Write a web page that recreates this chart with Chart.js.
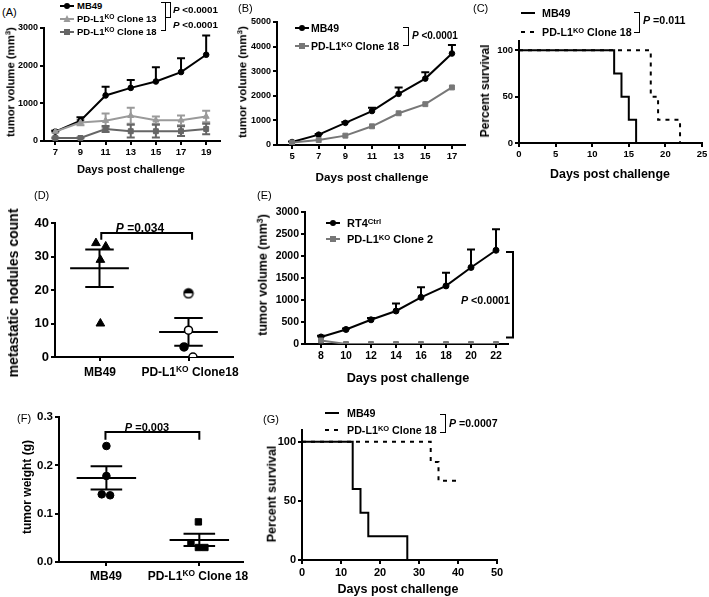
<!DOCTYPE html>
<html>
<head>
<meta charset="utf-8">
<script src="https://cdn.jsdelivr.net/npm/chart.js@4"></script>
<style>
  body { margin: 0; background: #fff; }
  #fig { position: relative; width: 709px; height: 597px; overflow: hidden; font-family: "Liberation Sans", Arial, sans-serif; color: #000; }
  .p { position: absolute; }
  .t { position: absolute; white-space: nowrap; font-weight: bold; line-height: 1; }
  .t sup { font-size: 70%; vertical-align: 0; position: relative; top: -0.45em; }
  .br { position: absolute; box-sizing: border-box; border: 1.5px solid #000; border-left: none; }
</style>
</head>
<body>
<div id="fig"></div>
<script>
// (A) tumour volume, MB49 vs PD-L1 KO clones
const aDays = [7, 9, 11, 13, 15, 17, 19];
const aMB49 = [250, 540, 1210, 1410, 1580, 1830, 2290];
const aMB49Sem = [20, 90, 230, 210, 380, 370, 510];
const aC13 = [250, 490, 540, 670, 550, 550, 650];
const aC13Sem = [20, 70, 190, 210, 100, 130, 150];
const aC18 = [80, 80, 320, 260, 260, 260, 320];
const aC18Sem = [10, 10, 80, 170, 170, 130, 140];
const aXTicks = [7, 9, 11, 13, 15, 17, 19];
const aYTicks = [0, 1000, 2000, 3000];

// (B)
const bDays = [5, 7, 9, 11, 13, 15, 17];
const bMB49 = [120, 420, 900, 1380, 2080, 2700, 3720];
const bMB49Sem = [20, 30, 40, 130, 260, 260, 340];
const bC18 = [100, 200, 380, 760, 1290, 1660, 2340];
const bXTicks = [5, 7, 9, 11, 13, 15, 17];
const bYTicks = [0, 1000, 2000, 3000, 4000, 5000];

// (C) survival
const cMB49Day = [0, 13, 14, 15, 16];
const cMB49Surv = [100, 75, 50, 25, 0];
const cC18Day = [0, 18, 19, 22];
const cC18Surv = [100, 50, 25, 0];
const cXTicks = [0, 5, 10, 15, 20, 25];
const survTicks = [0, 50, 100];

// (D) metastatic nodules
const dMB49 = [34, 33, 29, 10];
const dMB49X = [0.96, 1.07, 1.01, 1.01];
const dC18 = [19, 8, 3, 0];
const dC18X = [2.0, 2.0, 1.95, 2.05];
const dYTicks = [0, 10, 20, 30, 40];

// (E) RT4
const eDays = [8, 10, 12, 14, 16, 18, 20, 22];
const eRT4 = [160, 330, 550, 750, 1060, 1320, 1740, 2130];
const eRT4Sem = [30, 20, 40, 170, 230, 300, 410, 480];
const eC2 = [80, 0, 0, 0, 0, 0, 0, 0];
const eYTicks = [0, 500, 1000, 1500, 2000, 2500, 3000];

// (F) tumour weight
const fMB49 = [0.24, 0.178, 0.14, 0.138];
const fMB49X = [1.0, 1.0, 0.95, 1.04];
const fC18 = [0.083, 0.04, 0.03, 0.03];
const fC18X = [1.99, 1.91, 1.99, 2.06];
const fYTicks = [0, 0.1, 0.2, 0.3];

// (G) survival
const gMB49Day = [0, 13, 15, 17, 27];
const gMB49Surv = [100, 60, 40, 20, 0];
const gC18Day = [0, 33, 35, 40];
const gC18Surv = [100, 83, 67, 67];
const gXTicks = [0, 10, 20, 30, 40, 50];

Chart.defaults.font.family = '"Liberation Sans", Arial, sans-serif';
Chart.defaults.font.weight = 'bold';
Chart.defaults.color = '#000';
Chart.defaults.animation = false;
Chart.defaults.plugins.legend.display = false;
Chart.defaults.plugins.tooltip.enabled = false;

const fig = document.getElementById('fig');

// error bars (mean + sem, optionally mean - sem)
const errBars = {
  id: 'errBars',
  beforeDatasetsDraw(chart) {
    const ctx = chart.ctx, ys = chart.scales.y;
    chart.data.datasets.forEach((ds, i) => {
      if (!ds.sem) return;
      ctx.save();
      ctx.strokeStyle = ds.borderColor;
      ctx.lineWidth = 2;
      chart.getDatasetMeta(i).data.forEach((pt, j) => {
        const m = ds.data[j].y, e = ds.sem[j];
        const top = ys.getPixelForValue(m + e);
        const bot = ys.getPixelForValue(ds.semDown ? m - e : m);
        ctx.beginPath();
        ctx.moveTo(pt.x, top); ctx.lineTo(pt.x, bot);
        ctx.moveTo(pt.x - 4, top); ctx.lineTo(pt.x + 4, top);
        if (ds.semDown) { ctx.moveTo(pt.x - 4, bot); ctx.lineTo(pt.x + 4, bot); }
        ctx.stroke();
      });
      ctx.restore();
    });
  }
};

// mean +/- sem lines for scatter columns
const stats = {
  id: 'stats',
  beforeDatasetsDraw(chart, args, opts) {
    if (!opts.meanW) return;
    const xs = chart.scales.x, ys = chart.scales.y, ctx = chart.ctx;
    const hl = (x1, x2, y) => {
      ctx.moveTo(xs.getPixelForValue(x1), ys.getPixelForValue(y));
      ctx.lineTo(xs.getPixelForValue(x2), ys.getPixelForValue(y));
    };
    ctx.save();
    ctx.strokeStyle = '#000';
    ctx.lineWidth = 2;
    chart.data.datasets.forEach(ds => {
      const v = ds.data.map(p => p.y), n = v.length;
      const m = v.reduce((a, b) => a + b, 0) / n;
      const sd = Math.sqrt(v.reduce((a, b) => a + (b - m) ** 2, 0) / (n - 1));
      const se = sd / Math.sqrt(n), c = ds.group;
      ctx.beginPath();
      hl(c - opts.meanW, c + opts.meanW, m);
      hl(c - opts.capW, c + opts.capW, m + se);
      hl(c - opts.capW, c + opts.capW, m - se);
      ctx.moveTo(xs.getPixelForValue(c), ys.getPixelForValue(m - se));
      ctx.lineTo(xs.getPixelForValue(c), ys.getPixelForValue(m + se));
      ctx.stroke();
    });
    ctx.restore();
  }
};

// significance brackets
const brackets = {
  id: 'brackets',
  afterDraw(chart, args, opts) {
    const xs = chart.scales.x, ys = chart.scales.y, ctx = chart.ctx;
    ctx.save();
    ctx.strokeStyle = '#000';
    ctx.lineWidth = 2;
    ctx.beginPath();
    if (opts.sig) {
      const s = opts.sig;
      const x1 = xs.getPixelForValue(s.x1), x2 = xs.getPixelForValue(s.x2);
      const y = ys.getPixelForValue(s.y), yd = ys.getPixelForValue(s.y - s.drop);
      ctx.moveTo(x1, yd); ctx.lineTo(x1, y); ctx.lineTo(x2, y); ctx.lineTo(x2, yd);
    }
    if (opts.side) {
      const s = opts.side, x = chart.chartArea.right + s.dx;
      const y1 = ys.getPixelForValue(s.top), y2 = ys.getPixelForValue(s.bottom);
      ctx.moveTo(x - s.arm, y1); ctx.lineTo(x, y1); ctx.lineTo(x, y2); ctx.lineTo(x - s.arm, y2);
    }
    ctx.stroke();
    ctx.restore();
  }
};

function axis(min, max, ticks, size, fmt) {
  return {
    type: 'linear', min: min, max: max,
    afterBuildTicks: s => { s.ticks = ticks.map(v => ({ value: v })); },
    grid: { drawOnChartArea: false, color: '#000', lineWidth: 2, tickLength: 4 },
    border: { color: '#000', width: 2 },
    ticks: { font: { size: size, weight: 'bold' }, padding: 2, maxRotation: 0, autoSkip: false, callback: fmt }
  };
}

function series(xs, ys, color, shape, r, sem, both) {
  return {
    data: xs.map((x, i) => ({ x: x, y: ys[i] })),
    borderColor: color, backgroundColor: color, borderWidth: 2,
    pointStyle: shape, pointRadius: r, pointBorderWidth: 1,
    sem: sem, semDown: both
  };
}

function steps(xs, ys, dash) {
  return {
    data: xs.map((x, i) => ({ x: x, y: ys[i] })),
    stepped: true, borderColor: '#000', borderWidth: 2, pointRadius: 0, borderDash: dash
  };
}

function dots(xs, ys, group, style) {
  return Object.assign({ data: xs.map((x, i) => ({ x: x, y: ys[i] })), group: group, borderColor: '#000', backgroundColor: '#000' }, style);
}

// area = [left, top, right, bottom] of the plot area on the page
function panel(area, cfg) {
  const padL = 4, yw = 38, padT = 10, padR = 16, xh = 24, padB = 2;
  const div = document.createElement('div');
  div.className = 'p';
  div.style.left = (area[0] - yw - padL) + 'px';
  div.style.top = (area[1] - padT) + 'px';
  div.style.width = (area[2] - area[0] + yw + padL + padR) + 'px';
  div.style.height = (area[3] - area[1] + padT + xh + padB) + 'px';
  const cv = document.createElement('canvas');
  div.appendChild(cv);
  fig.appendChild(div);
  cfg.options.responsive = true;
  cfg.options.maintainAspectRatio = false;
  cfg.options.layout = { padding: { left: padL, top: padT, right: padR, bottom: padB } };
  cfg.options.scales.x.afterFit = s => { s.height = xh; };
  cfg.options.scales.y.afterFit = s => { s.width = yw; };
  cfg.plugins = [errBars, stats, brackets];
  return new Chart(cv, cfg);
}

function txt(html, x, y, size, o) {
  o = o || {};
  const d = document.createElement('div');
  d.className = 't';
  d.innerHTML = html;
  d.style.fontSize = size + 'px';
  d.style.left = x + 'px';
  d.style.top = y + 'px';
  const ax = o.align === 'c' ? '-50%' : o.align === 'r' ? '-100%' : '0';
  d.style.transform = 'translate(' + ax + ',-50%)' + (o.rot ? ' rotate(-90deg)' : '');
  if (o.normal) d.style.fontWeight = 'normal';
  fig.appendChild(d);
}

function icon(x, y, color, shape, dash) {
  let s = '<svg width="14" height="10" style="display:block">';
  s += '<line x1="0" y1="5" x2="14" y2="5" stroke="' + color + '" stroke-width="2"' + (dash ? ' stroke-dasharray="4 5"' : '') + '/>';
  if (shape === 'circle') s += '<circle cx="7" cy="5" r="3" fill="' + color + '"/>';
  if (shape === 'square') s += '<rect x="4" y="2" width="6" height="6" fill="' + color + '"/>';
  if (shape === 'triangle') s += '<polygon points="7,1 10.5,8 3.5,8" fill="' + color + '"/>';
  s += '</svg>';
  const d = document.createElement('div');
  d.className = 'p';
  d.style.left = x + 'px';
  d.style.top = (y - 5) + 'px';
  d.innerHTML = s;
  fig.appendChild(d);
}

function bracket(x, y1, y2, w) {
  const d = document.createElement('div');
  d.className = 'br';
  d.style.left = (x - w) + 'px';
  d.style.top = y1 + 'px';
  d.style.width = w + 'px';
  d.style.height = (y2 - y1) + 'px';
  fig.appendChild(d);
}

const KO = 'PD-L1<sup>KO</sup>';

// ---------- A ----------
panel([44, 28, 220, 141], {
  type: 'line',
  data: { datasets: [
    series(aDays, aC13, '#9a9a9a', 'triangle', 3.5, aC13Sem, true),
    series(aDays, aC18, '#666', 'rect', 3.5, aC18Sem, true),
    series(aDays, aMB49, '#000', 'circle', 2.8, aMB49Sem, false)
  ] },
  options: { scales: { x: axis(6.1, 20.1, aXTicks, 9.5), y: axis(0, 3000, aYTicks, 9) } }
});
txt('(A)', 2, 12, 11, { normal: true });
icon(60, 6, '#000', 'circle'); txt('MB49', 77, 6, 9.5);
icon(60, 19, '#9a9a9a', 'triangle'); txt(KO + ' Clone 13', 77, 19, 9.5);
icon(60, 32, '#666', 'square'); txt(KO + ' Clone 18', 77, 32, 9.5);
bracket(166, 2, 31, 5);
bracket(171, 2, 18, 5);
txt('<i>P</i> &lt;0.0001', 173, 10, 9.8);
txt('<i>P</i> &lt;0.0001', 173, 25, 9.8);
txt('tumor volume (mm<sup>3</sup>)', 11, 82, 11.3, { align: 'c', rot: true });
txt('Days post challenge', 131, 170, 11.2, { align: 'c' });

// ---------- B ----------
panel([277, 22, 465, 145], {
  type: 'line',
  data: { datasets: [
    series(bDays, bC18, '#777', 'rect', 3.5),
    series(bDays, bMB49, '#000', 'circle', 2.8, bMB49Sem, false)
  ] },
  options: { scales: { x: axis(3.87, 17.98, bXTicks, 9.5), y: axis(0, 5000, bYTicks, 9) } }
});
txt('(B)', 238, 8, 11, { normal: true });
icon(295, 28, '#000', 'circle'); txt('MB49', 311, 28, 10.5);
icon(295, 46, '#777', 'square'); txt(KO + ' Clone 18', 311, 46, 10.5);
bracket(409, 27, 46, 6);
txt('<i>P</i> &lt;0.0001', 412, 36, 10);
txt('tumor volume (mm<sup>3</sup>)', 243, 82, 11.5, { align: 'c', rot: true });
txt('Days post challenge', 372, 177, 11.7, { align: 'c' });

// ---------- C ----------
panel([519, 41, 702, 143], {
  type: 'line',
  data: { datasets: [
    steps(cC18Day, cC18Surv, [4, 5]),
    steps(cMB49Day, cMB49Surv)
  ] },
  options: { scales: { x: axis(0, 25, cXTicks, 9.5), y: axis(0, 110, survTicks, 9.5) } }
});
txt('(C)', 473, 8, 11, { normal: true });
icon(521, 13, '#000', ''); txt('MB49', 542, 13, 10.7);
icon(521, 32, '#000', '', true); txt(KO + ' Clone 18', 542, 32, 10.7);
bracket(640, 12, 33, 6);
txt('<i>P</i> =0.011', 643, 20, 10.7);
txt('Percent survival', 485, 91, 12, { align: 'c', rot: true });
txt('Days post challenge', 610, 174, 12.4, { align: 'c' });

// ---------- D ----------
const half = document.createElement('canvas');
half.width = half.height = 12;
(function () {
  const x = half.getContext('2d');
  x.fillStyle = '#fff'; x.beginPath(); x.arc(6, 6, 4.5, 0, 2 * Math.PI); x.fill();
  x.fillStyle = '#000'; x.beginPath(); x.arc(6, 6, 4.5, Math.PI, 2 * Math.PI); x.fill();
  x.strokeStyle = '#000'; x.lineWidth = 1.5; x.beginPath(); x.arc(6, 6, 4.5, 0, 2 * Math.PI); x.stroke();
})();
panel([55, 223, 233, 357], {
  type: 'scatter',
  data: { datasets: [
    dots(dMB49X, dMB49, 1, { pointStyle: 'triangle', pointRadius: 5 }),
    dots(dC18X, dC18, 2, { pointStyle: [half, 'circle', 'circle', 'circle'], pointRadius: 4,
      backgroundColor: ['#000', '#fff', '#000', '#fff'], borderWidth: 1.5 })
  ] },
  options: {
    scales: { x: axis(0.5, 2.5, [1, 2], 12, () => ''), y: axis(0, 40, dYTicks, 13) },
    plugins: { stats: { meanW: 0.33, capW: 0.16 }, brackets: { sig: { x1: 1.02, x2: 2.04, y: 37, drop: 2 } } }
  }
});
txt('(D)', 34, 195, 11, { normal: true });
txt('metastatic nodules count', 13, 293, 14, { align: 'c', rot: true });
txt('MB49', 100, 372, 12, { align: 'c' });
txt(KO + ' Clone18', 190, 372, 12, { align: 'c' });
txt('<i>P</i> =0.034', 140, 228, 12, { align: 'c' });

// ---------- E ----------
panel([305, 212, 508, 344], {
  type: 'line',
  data: { datasets: [
    series(eDays, eC2, '#777', 'rect', 3.5),
    series(eDays, eRT4, '#000', 'circle', 3, eRT4Sem, false)
  ] },
  options: {
    scales: { x: axis(6.72, 22.96, eDays, 10.5), y: axis(0, 3000, eYTicks, 10.5) },
    plugins: { brackets: { side: { top: 2090, bottom: 150, dx: 5, arm: 7 } } }
  }
});
txt('(E)', 257, 195, 11, { normal: true });
icon(326, 223, '#000', 'circle'); txt('RT4<sup>Ctrl</sup>', 347, 223, 11);
icon(326, 239, '#777', 'square'); txt(KO + ' Clone 2', 347, 239, 11);
txt('<i>P</i> &lt;0.0001', 510, 300, 10.7, { align: 'r' });
txt('tumor volume (mm<sup>3</sup>)', 263, 275, 12.5, { align: 'c', rot: true });
txt('Days post challenge', 408, 378, 12.7, { align: 'c' });

// ---------- F ----------
panel([59, 417, 243, 562], {
  type: 'scatter',
  data: { datasets: [
    dots(fMB49X, fMB49, 1, { pointStyle: 'circle', pointRadius: 3.8 }),
    dots(fC18X, fC18, 2, { pointStyle: 'rect', pointRadius: 4.5 })
  ] },
  options: {
    scales: { x: axis(0.49, 2.47, [1, 2], 12, () => ''), y: axis(0, 0.3, fYTicks, 11.5, v => v.toFixed(1)) },
    plugins: { stats: { meanW: 0.32, capW: 0.17 }, brackets: { sig: { x1: 0.99, x2: 2.0, y: 0.269, drop: 0.016 } } }
  }
});
txt('(F)', 17, 418, 11, { normal: true });
txt('tumor weight (g)', 27, 487, 12, { align: 'c', rot: true });
txt('MB49', 106, 576, 12, { align: 'c' });
txt(KO + ' Clone 18', 198, 576, 12, { align: 'c' });
txt('<i>P</i> =0.003', 147, 427, 11, { align: 'c' });

// ---------- G ----------
panel([302, 430, 497, 560], {
  type: 'line',
  data: { datasets: [
    steps(gC18Day, gC18Surv, [4, 5]),
    steps(gMB49Day, gMB49Surv)
  ] },
  options: { scales: { x: axis(0, 50, gXTicks, 11), y: axis(0, 110, survTicks, 11) } }
});
txt('(G)', 263, 419, 11, { normal: true });
icon(325, 413, '#000', ''); txt('MB49', 347, 413, 10.7);
icon(325, 430, '#000', '', true); txt(KO + ' Clone 18', 347, 430, 10.7);
bracket(446, 414, 433, 6);
txt('<i>P</i> =0.0007', 449, 423, 10.6);
txt('Percent survival', 272, 494, 12.5, { align: 'c', rot: true });
txt('Days post challenge', 398, 589, 12.5, { align: 'c' });
</script>
</body>
</html>
